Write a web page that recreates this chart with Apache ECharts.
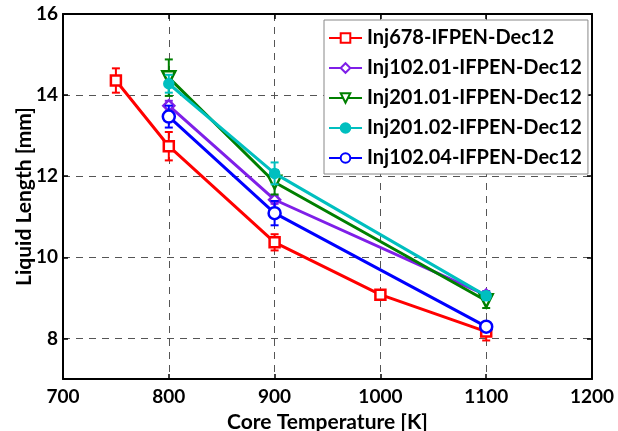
<!DOCTYPE html>
<html><head><meta charset="utf-8">
<script src="https://cdn.jsdelivr.net/npm/echarts@6/dist/echarts.min.js"></script>
<style>html,body{margin:0;padding:0;background:#fff}#c{width:618px;height:431px}</style>
</head><body><div id="c"></div>
<script>
var seriesNames = ['Inj678-IFPEN-Dec12','Inj102.01-IFPEN-Dec12','Inj201.01-IFPEN-Dec12','Inj201.02-IFPEN-Dec12','Inj102.04-IFPEN-Dec12'];
var temps678 = [750, 800, 900, 1000, 1100];
var vals678 = [14.36, 12.74, 10.37, 9.08, 8.17];
var err678 = [0.30, 0.35, 0.20, 0, 0.22];
var temps10201 = [800, 900, 1100];
var vals10201 = [13.74, 11.42, 9.07];
var err10201 = [0.12, 0.10, 0.10];
var temps20101 = [800, 900, 1100];
var vals20101 = [14.43, 11.85, 8.93];
var err20101 = [0.45, 0.30, 0.18];
var temps20102 = [800, 900, 1100];
var vals20102 = [14.28, 12.07, 9.05];
var err20102 = [0.22, 0.27, 0.10];
var temps10204 = [800, 900, 1100];
var vals10204 = [13.47, 11.09, 8.29];
var err10204 = [0.27, 0.30, 0.10];
var xTicks = [700, 800, 900, 1000, 1100, 1200];
var yTicks = [8, 10, 12, 14, 16];

var colors = ['#ff0000', '#7f1fe8', '#007f00', '#00bfbf', '#0000ff'];
var allTemps = [temps678, temps10201, temps20101, temps20102, temps10204];
var allVals = [vals678, vals10201, vals20101, vals20102, vals10204];
var allErr = [err678, err10201, err20101, err20102, err10204];
var symbols = ['rect', 'diamond', 'triangle', 'circle', 'circle'];
var symSizes = [10, 11, 13, 9, 12];
var symRot = [0, 0, 180, 0, 0];
var symFill = ['#fff', '#fff', '#fff', null, '#fff'];

var font = 'Lato, "Open Sans", sans-serif';
var series = [];
for (var i = 0; i < 5; i++) {
  (function(i){
    var pts = allTemps[i].map(function(t, k){ return [t, allVals[i][k], allErr[i][k]]; });
    series.push({
      type: 'custom', z: 2 + i * 2, silent: true,
      data: pts,
      renderItem: function(params, api) {
        var x = api.value(0), y = api.value(1), e = api.value(2);
        if (!e) return null;
        var top = api.coord([x, y + e]), bot = api.coord([x, y - e]);
        var hw = 4;
        var st = {stroke: colors[i], lineWidth: 2};
        return {type: 'group', children: [
          {type: 'line', shape: {x1: top[0], y1: top[1], x2: bot[0], y2: bot[1]}, style: st},
          {type: 'line', shape: {x1: top[0]-hw, y1: top[1], x2: top[0]+hw, y2: top[1]}, style: st},
          {type: 'line', shape: {x1: bot[0]-hw, y1: bot[1], x2: bot[0]+hw, y2: bot[1]}, style: st}
        ]};
      }
    });
    series.push({
      type: 'line', name: seriesNames[i], z: 3 + i * 2,
      data: pts.map(function(p){ return [p[0], p[1]]; }),
      symbol: symbols[i], symbolSize: symSizes[i], symbolRotate: symRot[i],
      showAllSymbol: true,
      lineStyle: {color: colors[i], width: 3},
      itemStyle: {color: symFill[i] || colors[i], borderColor: colors[i], borderWidth: 2.5},
      emphasis: {disabled: true}
    });
  })(i);
}

var axisLine = {show: true, lineStyle: {color: '#000', width: 2}};
var tickFont = {fontFamily: font, fontWeight: 'bold', fontSize: 19, color: '#000'};
var opt = {
  animation: false,
  color: colors,
  grid: {left: 63, right: 26, top: 14, bottom: 52, containLabel: false, outerBoundsMode: 'none'},
  legend: {
    data: seriesNames,
    orient: 'vertical', left: 324, top: 20,
    backgroundColor: '#fff', borderColor: '#888', borderWidth: 1,
    padding: [8, 6, 6, 4], itemGap: 10, itemWidth: 33, itemHeight: 12,
    textStyle: {fontFamily: font, fontWeight: 'bold', fontSize: 20, lineHeight: 20, color: '#000'}
  },
  xAxis: [{
    type: 'value', min: 700, max: 1200, interval: 100,
    name: 'Core Temperature [K]', nameLocation: 'middle', nameGap: 33,
    nameTextStyle: {fontFamily: font, fontWeight: 'bold', fontSize: 21, color: '#000'},
    axisLine: axisLine,
    axisTick: {show: true, inside: true, length: 5, lineStyle: {color: '#000', width: 1.5}},
    axisLabel: Object.assign({margin: 8, customValues: xTicks, formatter: function(v){ return String(v); }}, tickFont),
    splitLine: {show: true, lineStyle: {color: '#555', type: [7, 6], width: 1}}
  }, {
    type: 'value', position: 'top', min: 700, max: 1200, interval: 100,
    axisLine: axisLine,
    axisTick: {show: true, inside: true, length: 5, lineStyle: {color: '#000', width: 1.5}},
    axisLabel: {show: false}, splitLine: {show: false}
  }],
  yAxis: [{
    type: 'value', min: 7, max: 16,
    name: 'Liquid Length [mm]', nameLocation: 'middle', nameGap: 28, nameMoveOverlap: false,
    nameTextStyle: {fontFamily: font, fontWeight: 'bold', fontSize: 21, color: '#000'},
    axisLine: axisLine,
    axisTick: {show: true, inside: true, length: 5, customValues: yTicks, lineStyle: {color: '#000', width: 1.5}},
    axisLabel: Object.assign({margin: 5, customValues: yTicks}, tickFont),
    splitLine: {show: true, lineStyle: {color: '#555', type: [7, 6], width: 1}}
  }, {
    type: 'value', position: 'right', min: 7, max: 16,
    axisLine: axisLine,
    axisTick: {show: true, inside: true, length: 5, customValues: yTicks, lineStyle: {color: '#000', width: 1.5}},
    axisLabel: {show: false}, splitLine: {show: false}
  }],
  series: series
};
var chart = echarts.init(document.getElementById('c'), null, {renderer: 'canvas'});
chart.setOption(opt);
</script></body></html>
